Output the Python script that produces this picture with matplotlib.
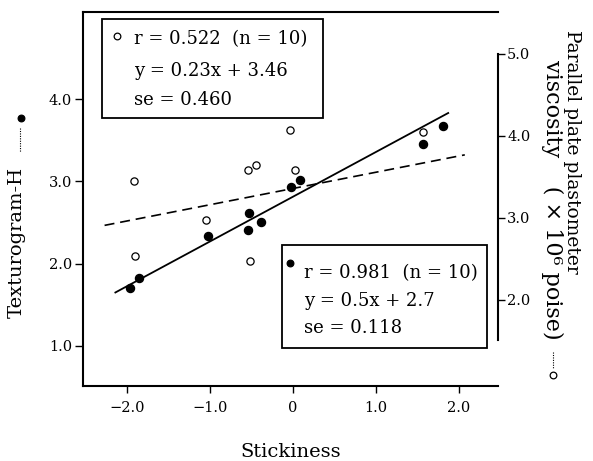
import numpy as np
import matplotlib.pyplot as plt
from matplotlib.patches import Rectangle

plt.rcParams['font.family'] = ['DejaVu Serif', 'DejaVu Sans']

#%% Data
# Texturogram-H, filled circles, left axis
tex_x = [-1.96, -1.85, -1.02, -0.53, -0.54, -0.38, -0.03, 0.08, 1.57, 1.81]
tex_y = [1.71, 1.83, 2.33, 2.62, 2.41, 2.51, 2.93, 3.02, 3.45, 3.67]
# Parallel plate plastometer viscosity, open circles, right axis
vis_x = [-1.92, -1.90, -1.05, -0.54, -0.45, -0.52, -0.04, 0.02, 1.57]
vis_y = [3.45, 2.54, 2.97, 3.58, 3.65, 2.47, 4.07, 3.59, 4.05]

# regression lines as drawn
tex_fit_x = [-2.14, 1.87]
tex_fit_y = [1.65, 3.83]
vis_fit_x = [-2.27, 2.07]
vis_fit_y = [2.91, 3.77]

x_ticks = [-2.0, -1.0, 0.0, 1.0, 2.0]
x_ticklabels = ["\u22122.0", "\u22121.0", "0", "1.0", "2.0"]
left_ticks = [1.0, 2.0, 3.0, 4.0]
right_ticks = [2.0, 3.0, 4.0, 5.0]

vis_stats = ["r = 0.522  (n = 10)", "y = 0.23x + 3.46", "se = 0.460"]
tex_stats = ["r = 0.981  (n = 10)", "y = 0.5x + 2.7", "se = 0.118"]

#%% Figure
W, H = 593, 461
fig = plt.figure(figsize=(W / 100, H / 100), dpi=100)

def fx(px):
    return px / W

def fy(py):
    return 1 - py / H

def fig_marker(px, py, filled):
    # small circle symbol placed in figure pixel coordinates
    fig.add_artist(plt.Line2D([fx(px)], [fy(py)], marker="o",
                              markerfacecolor="black" if filled else "white",
                              markeredgecolor="black", markeredgewidth=0.9,
                              markersize=4.8, transform=fig.transFigure))

def fig_leader(px, py0, py1):
    # short dotted leader next to an axis label
    fig.add_artist(plt.Line2D([fx(px), fx(px)], [fy(py0), fy(py1)], color="black",
                              linewidth=0.8, linestyle=(0, (1, 1.2)),
                              transform=fig.transFigure))

ax = fig.add_axes([fx(83), fy(386), fx(498) - fx(83), fy(12) - fy(386)])
ax2 = ax.twinx()

ax.set_xlim(-2.53, 2.47)
ax.set_ylim(0.514, 5.057)
ax2.set_ylim(0.951, 5.512)

ax.plot(tex_fit_x, tex_fit_y, color="black", linewidth=1.3)
ax.plot(tex_x, tex_y, "o", color="black", markersize=5.8, zorder=3)

ax2.plot(vis_fit_x, vis_fit_y, color="black", linewidth=1.2, dashes=(6, 3.5))
ax2.plot(vis_x, vis_y, "o", markerfacecolor="white", markeredgecolor="black",
         markeredgewidth=0.9, markersize=5.2, zorder=3)

# spines
for s in ["left", "bottom", "top"]:
    ax.spines[s].set_linewidth(1.5)
ax.spines["right"].set_visible(False)
for s in ["left", "bottom", "top"]:
    ax2.spines[s].set_visible(False)
ax2.spines["right"].set_linewidth(1.5)
ax2.spines["right"].set_bounds(1.51, 5.0)

ax.set_xticks(x_ticks)
ax.set_xticklabels(x_ticklabels)
ax.set_yticks(left_ticks)
ax.set_yticklabels([f"{v:.1f}" for v in left_ticks])
ax2.set_yticks(right_ticks)
ax2.set_yticklabels([f"{v:.1f}" for v in right_ticks])

ax.tick_params(axis="x", direction="out", length=5, width=1.0, pad=6, labelsize=10.5)
ax.tick_params(axis="y", direction="out", length=6, width=1.0, pad=2, labelsize=10.5)
ax2.tick_params(axis="y", direction="out", length=5, width=1.0, pad=1.5, labelsize=10.5)

#%% Stat boxes
fig.add_artist(Rectangle((fx(102), fy(118)), fx(323) - fx(102), fy(19) - fy(118),
                         transform=fig.transFigure, fill=False, linewidth=1.3, edgecolor="black"))
fig.add_artist(Rectangle((fx(282), fy(348)), fx(487) - fx(282), fy(245) - fy(348),
                         transform=fig.transFigure, fill=False, linewidth=1.3, edgecolor="black"))

fig_marker(117, 36, filled=False)
fig_marker(290, 263, filled=True)

for txt, yy in zip(vis_stats, [39, 71, 100]):
    fig.text(fx(134), fy(yy), txt, fontsize=13, ha="left", va="center")
for txt, yy in zip(tex_stats, [273, 301, 328]):
    fig.text(fx(304), fy(yy), txt, fontsize=13, ha="left", va="center")

#%% Axis labels
fig.text(fx(291), fy(452), "Stickiness", fontsize=14, ha="center", va="center")

fig.text(fx(17), fy(318), "Texturogram-H", fontsize=14, rotation=90,
         ha="center", va="bottom")
fig_leader(20, 128, 152)
fig_marker(21, 118, filled=True)

fig.text(fx(572), fy(152), "Parallel plate plastometer", fontsize=13.5, rotation=-90,
         ha="center", va="center")
fig.text(fx(552), fy(60), "viscosity    ( \u00d7 10\u2076 poise)", fontsize=16,
         rotation=-90, ha="center", va="top")
fig_leader(553, 352, 368)
fig_marker(553, 375, filled=False)

fig.savefig("out.png", dpi=100)
